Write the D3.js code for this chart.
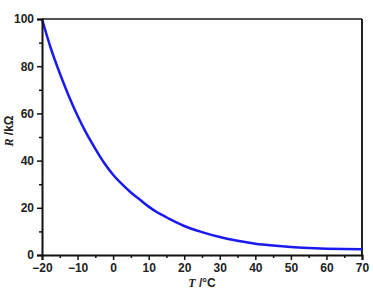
<!DOCTYPE html>
<html><head><meta charset="utf-8">
<script src="https://cdn.jsdelivr.net/npm/d3@7"></script>
<style>body{margin:0;background:#fff}svg{display:block}</style>
</head><body>
<svg id="c" width="373" height="298"></svg>
<script>
const temps = [-20,-17.5,-15,-12.5,-10,-7.5,-5,-2.5,0,2.5,5,7.5,10,12.5,15,17.5,20,25,30,35,40,45,50,55,60,65,70];
const resist = [100,87.5,77,67.5,59,51.5,45,39,34,30,26.5,23.5,20.5,18,16,14,12.3,9.7,7.6,6,4.8,4,3.4,3,2.7,2.5,2.4];
const xTicks = [-20,-10,0,10,20,30,40,50,60,70];
const yTicks = [0,20,40,60,80,100];

const svg = d3.select("#c");
const m = {l:42, r:362, t:19, b:255};
const x = d3.scaleLinear().domain([-20,70]).range([m.l,m.r]);
const y = d3.scaleLinear().domain([0,100]).range([m.b,m.t]);

// frame
svg.append("line").attr("x1",m.l).attr("x2",m.r).attr("y1",m.t).attr("y2",m.t).attr("stroke","#555").attr("stroke-width",2);
svg.append("line").attr("x1",m.r).attr("x2",m.r).attr("y1",m.t).attr("y2",m.b).attr("stroke","#222").attr("stroke-width",2);

// curve
const pts = temps.map((t,i)=>[t,resist[i]]);
svg.append("path").datum(pts)
  .attr("d", d3.line().x(d=>x(d[0])).y(d=>y(d[1])).curve(d3.curveMonotoneX))
  .attr("fill","none").attr("stroke","#1a1aee").attr("stroke-width",2.5);

const font = "'Liberation Sans', Arial, sans-serif";
// x axis
svg.append("g").attr("transform",`translate(0,${m.b})`)
  .call(d3.axisBottom(x).tickValues(xTicks).tickSize(5).tickPadding(3).tickFormat(d3.format("d")));
const xm = svg.append("g").attr("transform",`translate(0,${m.b})`)
  .call(d3.axisBottom(x).tickValues(d3.range(-15,70,10)).tickSize(3).tickFormat(""));
xm.select(".domain").remove();
// y axis
svg.append("g").attr("transform",`translate(${m.l},0)`)
  .call(d3.axisLeft(y).tickValues(yTicks).tickSize(5).tickPadding(3));
const ym = svg.append("g").attr("transform",`translate(${m.l},0)`)
  .call(d3.axisLeft(y).tickValues(d3.range(10,100,20)).tickSize(3).tickFormat(""));
ym.select(".domain").remove();

svg.selectAll(".domain").attr("stroke","#111").attr("stroke-width",2);
svg.selectAll(".tick line").attr("stroke","#111").attr("stroke-width",1.5);
svg.selectAll(".tick text").attr("font-family",font).attr("font-weight","bold").attr("font-size",12).attr("fill","#222");

// titles
const xt = svg.append("text").attr("x",202).attr("y",287).attr("text-anchor","middle")
  .attr("font-family",font).attr("font-weight","bold").attr("font-size",12).attr("fill","#222");
xt.append("tspan").attr("font-family","'Liberation Serif', serif").attr("font-style","italic").text("T");
xt.append("tspan").text(" /°C");
const yt = svg.append("text").attr("transform","translate(13,131) rotate(-90)").attr("text-anchor","middle")
  .attr("font-family",font).attr("font-weight","bold").attr("font-size",12).attr("fill","#222");
yt.append("tspan").attr("font-family","'Liberation Serif', serif").attr("font-style","italic").text("R");
yt.append("tspan").text(" /kΩ");
</script>
</body></html>
